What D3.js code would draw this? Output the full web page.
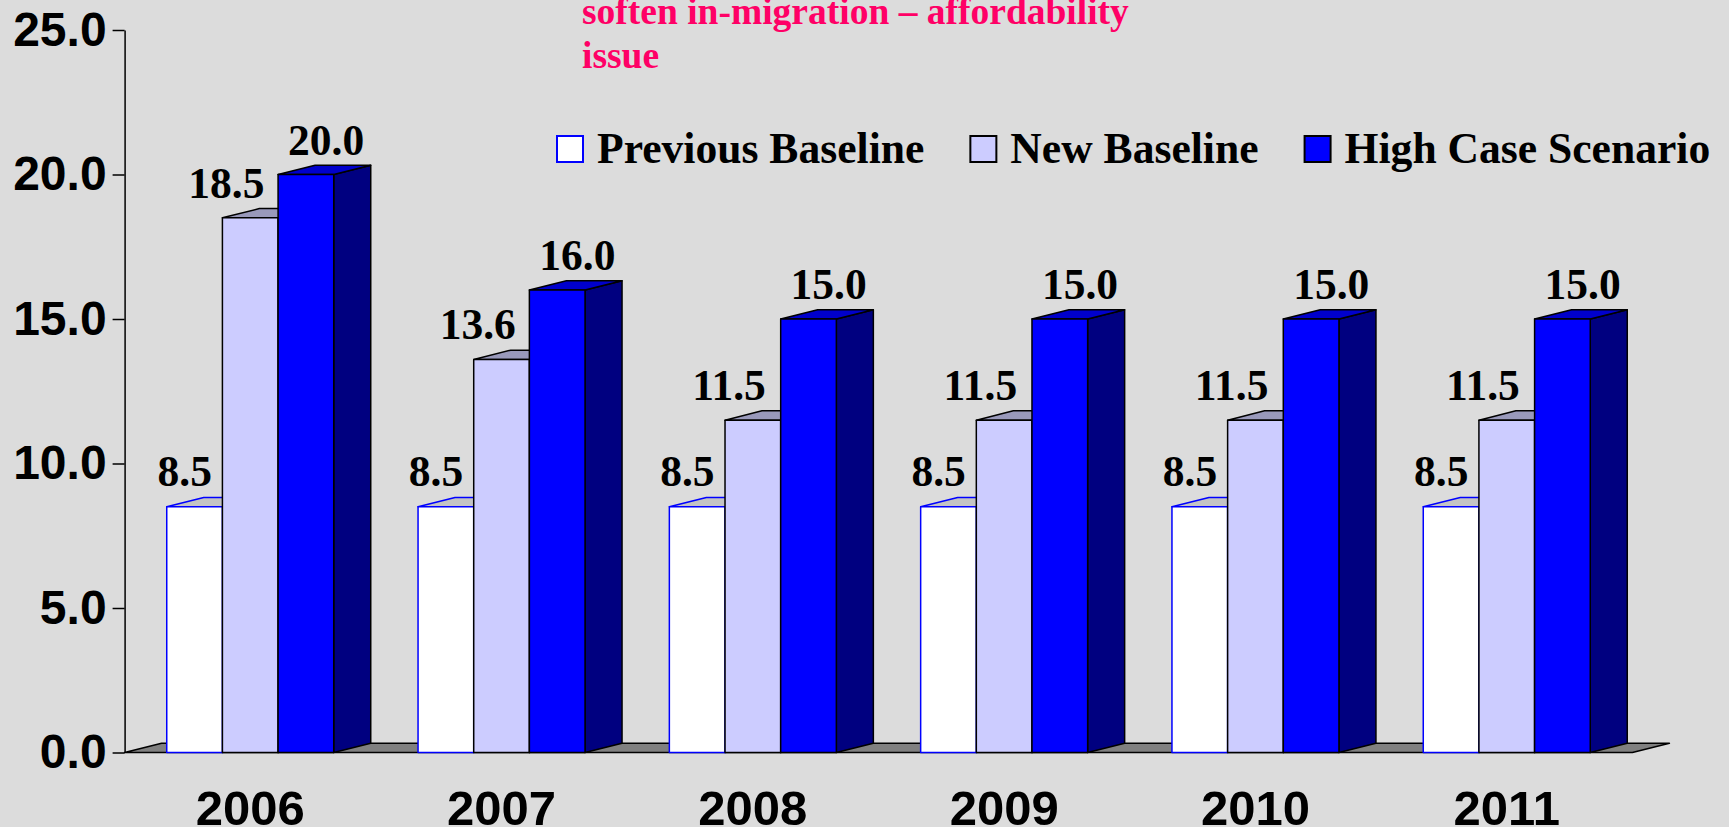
<!DOCTYPE html>
<html>
<head>
<meta charset="utf-8">
<script src="https://cdn.jsdelivr.net/npm/d3@7"></script>
<style>
  html, body { margin: 0; padding: 0; background: #dcdcdc; overflow: hidden; }
  svg { display: block; }
</style>
</head>
<body>
<svg id="chart" width="1729" height="827"></svg>
<script>
// ---- data ----
const years = ["2006", "2007", "2008", "2009", "2010", "2011"];
const seriesNames = ["Previous Baseline", "New Baseline", "High Case Scenario"];
const previousBaseline = [8.5, 8.5, 8.5, 8.5, 8.5, 8.5];
const newBaseline = [18.5, 13.6, 11.5, 11.5, 11.5, 11.5];
const highCaseScenario = [20.0, 16.0, 15.0, 15.0, 15.0, 15.0];
const yTickValues = [0, 5, 10, 15, 20, 25];
const noteLines = ["soften in-migration \u2013 affordability", "issue"];

const seriesValues = [previousBaseline, newBaseline, highCaseScenario];

// ---- look ----
const W = 1729, H = 827;
const serif = "'Liberation Serif', 'Times New Roman', Times, serif";
const sans = "'Liberation Sans', Arial, Helvetica, sans-serif";
const depthX = 37, depthY = -9.3;   // oblique 3-D offset for bar depth
const barStyles = [
  { front: "#ffffff", top: "#c4c4c4", side: "#a0a0a0", stroke: "#0000ff" },
  { front: "#ccccff", top: "#9999bb", side: "#8888aa", stroke: "#000000" },
  { front: "#0000ff", top: "#0000cc", side: "#000080", stroke: "#000000" }
];
// value label placement per series (centre offset from bar front-left, lift above bar top)
const labelPlace = [
  { dx: 18, lift: 21 },
  { dx: 4, lift: 20 },
  { dx: 48, lift: 20 }
];

const svg = d3.select("#chart");
svg.append("rect").attr("width", W).attr("height", H).attr("fill", "#dcdcdc");

// ---- scales ----
const x = d3.scaleBand().domain(years).range([124.6, 1632.4])
  .paddingInner(0.3355).paddingOuter(0.1677);
const xs = d3.scaleBand().domain(seriesNames).range([0, x.bandwidth()]);
const y = d3.scaleLinear().domain([0, 25]).range([752.5, 30]);

// ---- floor ----
const [fx0, fx1] = x.range();
const fy = y(0);
svg.append("polygon")
  .attr("points", [[fx0, fy], [fx1, fy], [fx1 + depthX, fy + depthY], [fx0 + depthX, fy + depthY]].join(" "))
  .attr("fill", "#808080").attr("stroke", "#000").attr("stroke-width", 1.5)
  .attr("stroke-linejoin", "round");

// ---- y axis ----
const yAxis = svg.append("g")
  .attr("transform", `translate(${fx0},0)`)
  .call(d3.axisLeft(y).tickValues(yTickValues).tickFormat(d3.format(".1f"))
    .tickSize(12).tickSizeOuter(0).tickPadding(6));
yAxis.select(".domain").attr("stroke", "#000").attr("stroke-width", 1.5);
yAxis.selectAll(".tick line").attr("stroke", "#000").attr("stroke-width", 1.5);
yAxis.selectAll(".tick text")
  .attr("fill", "#000").attr("font-family", sans).attr("font-weight", "bold")
  .attr("font-size", 48);

// ---- x axis labels ----
const xAxis = svg.append("g")
  .attr("transform", `translate(0,${y(0)})`)
  .call(d3.axisBottom(x).tickSize(0).tickPadding(37.5));
xAxis.select(".domain").remove();
xAxis.selectAll(".tick text")
  .attr("fill", "#000").attr("font-family", sans).attr("font-weight", "bold")
  .attr("font-size", 49);

// ---- bars ----
const bars = svg.append("g");
years.forEach((yr, i) => {
  seriesNames.forEach((name, s) => {
    const v = seriesValues[s][i];
    const x0 = x(yr) + xs(name);
    const w = xs.bandwidth();
    const yt = y(v), yb = y(0);
    const st = barStyles[s];
    const g = bars.append("g")
      .attr("stroke", st.stroke).attr("stroke-width", 1.5).attr("stroke-linejoin", "round");
    // right side face
    g.append("polygon")
      .attr("points", [[x0 + w, yt], [x0 + w + depthX, yt + depthY],
                       [x0 + w + depthX, yb + depthY], [x0 + w, yb]].join(" "))
      .attr("fill", st.side);
    // top face
    g.append("polygon")
      .attr("points", [[x0, yt], [x0 + depthX, yt + depthY],
                       [x0 + w + depthX, yt + depthY], [x0 + w, yt]].join(" "))
      .attr("fill", st.top);
    // front face
    g.append("rect")
      .attr("x", x0).attr("y", yt).attr("width", w).attr("height", yb - yt)
      .attr("fill", st.front);
  });
});

// ---- value labels ----
const labels = svg.append("g")
  .attr("font-family", serif).attr("font-weight", "bold").attr("font-size", 43.5)
  .attr("fill", "#000").attr("text-anchor", "middle");
years.forEach((yr, i) => {
  seriesNames.forEach((name, s) => {
    const v = seriesValues[s][i];
    labels.append("text")
      .attr("x", x(yr) + xs(name) + labelPlace[s].dx)
      .attr("y", y(v) - labelPlace[s].lift)
      .text(d3.format(".1f")(v));
  });
});

// ---- legend ----
const legend = svg.append("g")
  .attr("font-family", serif).attr("font-weight", "bold").attr("font-size", 43.6);
let lx = 557;
seriesNames.forEach((name, s) => {
  legend.append("rect")
    .attr("x", lx).attr("y", 136).attr("width", 26).attr("height", 26)
    .attr("fill", barStyles[s].front).attr("stroke", barStyles[s].stroke)
    .attr("stroke-width", 2);
  const t = legend.append("text")
    .attr("x", lx + 40).attr("y", 163.3).attr("fill", "#000").text(name);
  lx += 40 + t.node().getComputedTextLength() + 46;
});

// ---- note ----
const note = svg.append("text")
  .attr("font-family", serif).attr("font-weight", "bold").attr("font-size", 37.5)
  .attr("fill", "#ff0066");
noteLines.forEach((line, k) => {
  note.append("tspan").attr("x", 582).attr("y", 24 + k * 43.7).text(line);
});
</script>
</body>
</html>
